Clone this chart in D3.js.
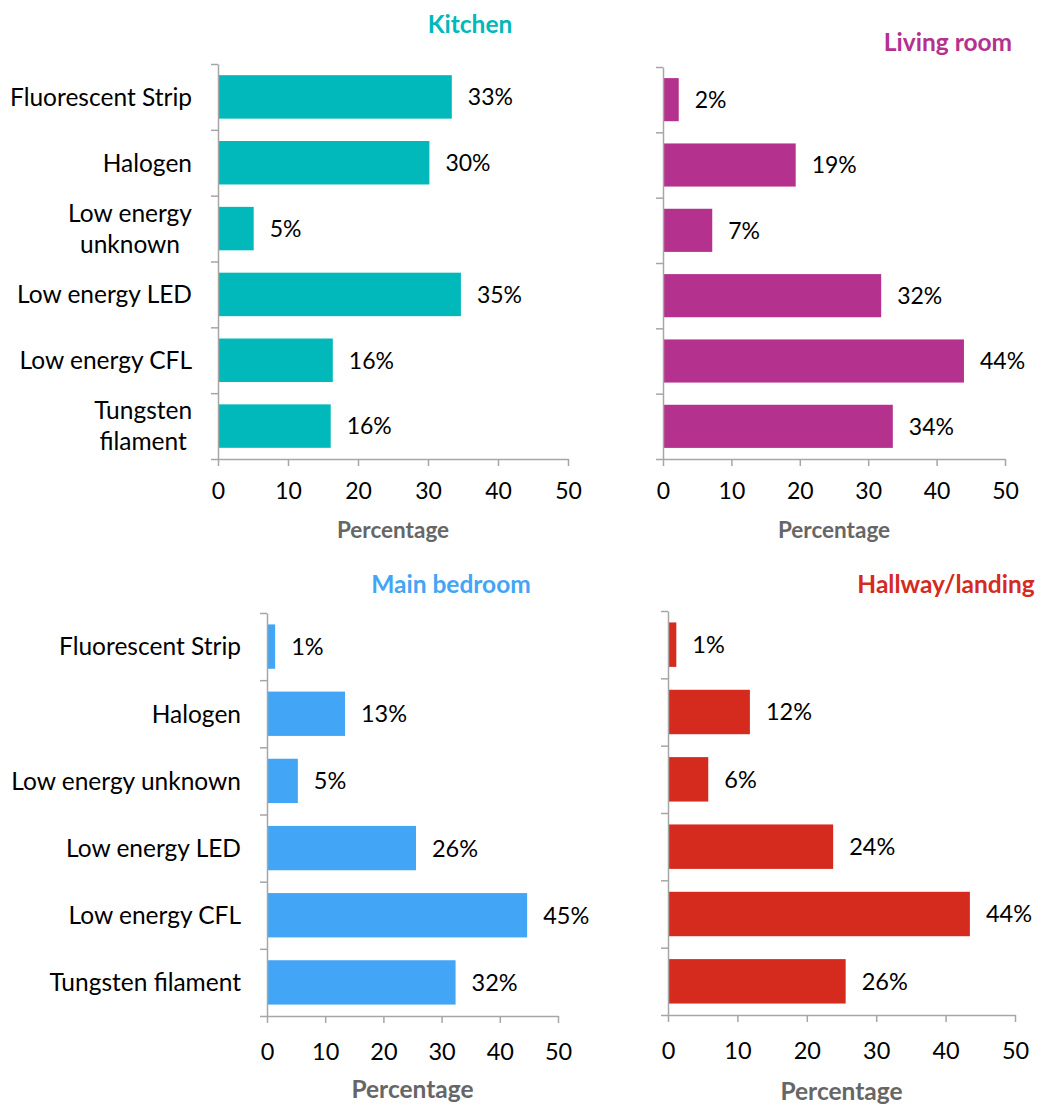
<!DOCTYPE html>
<html>
<head>
<meta charset="utf-8">
<script src="https://cdn.jsdelivr.net/npm/d3@7"></script>
<style>
  body { margin: 0; background: #fff; }
  text { font-family: Lato, "Open Sans", sans-serif; }
</style>
</head>
<body>
<script>
// lamp types per room, percentages
var categories = ['Fluorescent Strip', 'Halogen', 'Low energy unknown', 'Low energy LED', 'Low energy CFL', 'Tungsten filament'];
var kitchenLabels = ['Fluorescent Strip', 'Halogen', 'Low energy\nunknown', 'Low energy LED', 'Low energy CFL', 'Tungsten\nfilament'];

var kitchen     = [33.4, 30.2, 5.1, 34.7, 16.4, 16.1];
var livingRoom  = [2.3, 19.4, 7.2, 31.9, 44.0, 33.6];
var mainBedroom = [1.4, 13.4, 5.3, 25.6, 44.7, 32.4];
var hallway     = [1.2, 11.8, 5.8, 23.8, 43.5, 25.6];

var xTicks = [0, 10, 20, 30, 40, 50];

var axis_color = '#a6a6a6';

var panels = [
  {title: 'Kitchen', values: kitchen, color: '#01B8BA', labels: kitchenLabels,
   x0: 218, x1: 568, y0: 64, y1: 459, titleX: 470, titleY: 33, labelRight: 192,
   fs: 23, tickPad: 17, pctY: 538, pctFs: 22.5},
  {title: 'Living room', values: livingRoom, color: '#B5318E', labels: null,
   x0: 663, x1: 1005, y0: 67, y1: 459, titleX: 948, titleY: 51,
   fs: 23, tickPad: 17, pctY: 538, pctFs: 22.5},
  {title: 'Main bedroom', values: mainBedroom, color: '#42A5F5', labels: categories,
   x0: 267, x1: 558, y0: 613, y1: 1016, titleX: 451, titleY: 593, labelRight: 241,
   fs: 23.5, tickPad: 20, pctY: 1098, pctFs: 24.5},
  {title: 'Hallway/landing', values: hallway, color: '#D52B1E', labels: null,
   x0: 668, x1: 1015, y0: 611, y1: 1015, titleX: 946, titleY: 593,
   fs: 23.5, tickPad: 20, pctY: 1100, pctFs: 24.5}
];

var svg = d3.select('body').append('svg')
  .attr('width', 1038)
  .attr('height', 1104);

panels.forEach(function(p){

  var x = d3.scaleLinear().domain([0, 50]).range([p.x0, p.x1]);
  var y = d3.scaleBand().domain(categories).range([p.y0, p.y1])
    .paddingInner(0.34).paddingOuter(0.17);
  // boundaries between categories for the y tick marks
  var yEdge = d3.scaleLinear().domain([0, categories.length]).range([p.y0, p.y1]);

  var g = svg.append('g');

  // bars
  g.selectAll('rect.bar')
    .data(p.values)
    .enter()
    .append('rect')
    .attr('class', 'bar')
    .attr('x', x(0))
    .attr('y', function(d, i){ return y(categories[i]); })
    .attr('width', function(d){ return x(d) - x(0); })
    .attr('height', y.bandwidth())
    .style('fill', p.color);

  // value labels
  g.selectAll('text.val')
    .data(p.values)
    .enter()
    .append('text')
    .attr('class', 'val')
    .attr('x', function(d){ return x(d) + 16; })
    .attr('y', function(d, i){ return y(categories[i]) + y.bandwidth() / 2; })
    .attr('dy', '0.36em')
    .style('font-size', p.fs + 'px')
    .style('fill', '#000')
    .text(function(d){ return Math.round(d) + '%'; });

  // y axis (ticks only, at band edges)
  var yAxis = g.append('g')
    .attr('transform', 'translate(' + x(0) + ',0)')
    .call(d3.axisLeft(yEdge).tickValues(d3.range(categories.length + 1))
      .tickSize(7).tickSizeOuter(0).tickFormat(''));

  // x axis
  var xAxis = g.append('g')
    .attr('transform', 'translate(0,' + p.y1 + ')')
    .call(d3.axisBottom(x).tickValues(xTicks).tickSize(7).tickSizeOuter(0)
      .tickPadding(p.tickPad));

  [yAxis, xAxis].forEach(function(a){
    a.select('.domain').style('stroke', axis_color).style('stroke-width', 1.5);
    a.selectAll('.tick line').style('stroke', axis_color).style('stroke-width', 1.5);
  });
  xAxis.selectAll('.tick text')
    .style('font-family', 'Lato, sans-serif')
    .style('font-size', p.fs + 'px')
    .style('fill', '#000');

  // category labels
  if (p.labels){
    p.labels.forEach(function(lab, i){
      var lines = lab.split('\n');
      var cy = y(categories[i]) + y.bandwidth() / 2;
      var t = g.append('text')
        .style('font-size', '24.5px')
        .style('fill', '#000');
      if (lines.length == 1){
        t.attr('x', p.labelRight).attr('y', cy).attr('dy', '0.36em')
          .style('text-anchor', 'end')
          .text(lab);
      } else {
        // wrapped label: lines centred on each other, block right aligned
        var lineH = 31;
        var spans = t.selectAll('tspan')
          .data(lines)
          .enter()
          .append('tspan')
          .text(function(d){ return d; });
        var maxW = 0;
        spans.each(function(){ maxW = Math.max(maxW, this.getComputedTextLength()); });
        var cx = p.labelRight - maxW / 2;
        spans
          .attr('x', cx)
          .attr('y', function(d, j){ return cy + (j - (lines.length - 1) / 2) * lineH; })
          .attr('dy', '0.36em')
          .style('text-anchor', 'middle');
      }
    });
  }

  // room title
  g.append('text')
    .attr('x', p.titleX)
    .attr('y', p.titleY)
    .style('text-anchor', 'middle')
    .style('font-weight', 'bold')
    .style('font-size', '24.5px')
    .style('fill', p.color)
    .text(p.title);

  // axis title
  g.append('text')
    .attr('x', (p.x0 + p.x1) / 2)
    .attr('y', p.pctY)
    .style('text-anchor', 'middle')
    .style('font-weight', 'bold')
    .style('font-size', p.pctFs + 'px')
    .style('fill', '#666')
    .text('Percentage');
});
</script>
</body>
</html>
